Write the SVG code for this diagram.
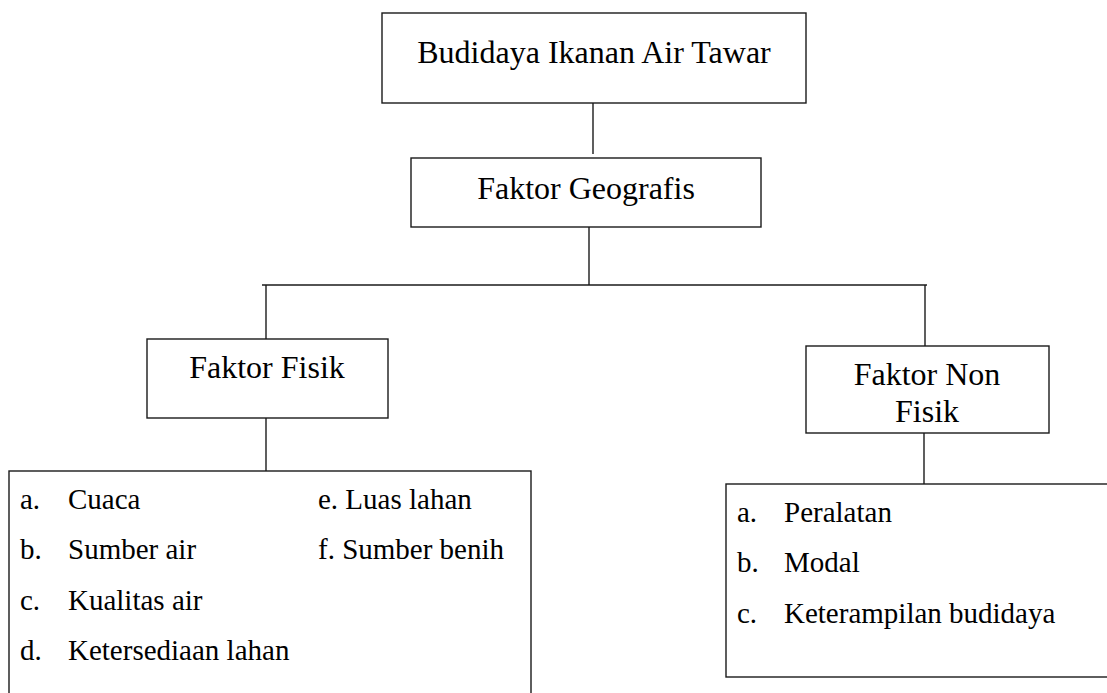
<svg xmlns="http://www.w3.org/2000/svg" width="1107" height="693" viewBox="0 0 1107 693">
<style>
.box{fill:#fff;stroke:#1a1a1a;stroke-width:1.4}
.ln{stroke:#1a1a1a;stroke-width:1.4;fill:none}
.lbl{font-family:"Liberation Serif","Times New Roman",serif;font-size:32px;fill:#000}
.item{font-family:"Liberation Serif","Times New Roman",serif;font-size:29px;fill:#000}
</style>
<rect width="1107" height="693" fill="#fff"/>
<g id="connectors">
<line class="ln" x1="593" y1="103" x2="593" y2="154"/>
<line class="ln" x1="589" y1="227" x2="589" y2="285"/>
<line class="ln" x1="262" y1="285" x2="927" y2="285"/>
<line class="ln" x1="266" y1="285" x2="266" y2="339"/>
<line class="ln" x1="925" y1="285" x2="925" y2="346"/>
<line class="ln" x1="266" y1="418" x2="266" y2="471"/>
<line class="ln" x1="924" y1="433" x2="924" y2="484"/>
</g>
<g id="node-budidaya">
<rect class="box" x="382" y="13" width="424" height="90"/>
<text class="lbl" x="594" y="63" text-anchor="middle">Budidaya Ikanan Air Tawar</text>
</g>
<g id="node-geografis">
<rect class="box" x="411" y="158" width="350" height="69"/>
<text class="lbl" x="586" y="199" text-anchor="middle">Faktor Geografis</text>
</g>
<g id="node-fisik">
<rect class="box" x="147" y="339" width="241" height="79"/>
<text class="lbl" x="267" y="378" text-anchor="middle">Faktor Fisik</text>
</g>
<g id="node-nonfisik">
<rect class="box" x="806" y="346" width="243" height="87"/>
<text class="lbl" x="927" y="385" text-anchor="middle">Faktor Non</text>
<text class="lbl" x="927" y="422" text-anchor="middle">Fisik</text>
</g>
<g id="node-fisik-list">
<rect class="box" x="9" y="471" width="522" height="240"/>
<text class="item" x="20" y="509">a.</text>
<text class="item" x="68" y="509">Cuaca</text>
<text class="item" x="20" y="559">b.</text>
<text class="item" x="68" y="559">Sumber air</text>
<text class="item" x="20" y="610">c.</text>
<text class="item" x="68" y="610">Kualitas air</text>
<text class="item" x="20" y="660">d.</text>
<text class="item" x="68" y="660">Ketersediaan lahan</text>
<text class="item" x="318" y="509">e. Luas lahan</text>
<text class="item" x="318" y="559">f. Sumber benih</text>
</g>
<g id="node-nonfisik-list">
<rect class="box" x="726" y="484" width="400" height="193"/>
<text class="item" x="737" y="522">a.</text>
<text class="item" x="784" y="522">Peralatan</text>
<text class="item" x="737" y="572">b.</text>
<text class="item" x="784" y="572">Modal</text>
<text class="item" x="737" y="623">c.</text>
<text class="item" x="784" y="623">Keterampilan budidaya</text>
</g>
</svg>
